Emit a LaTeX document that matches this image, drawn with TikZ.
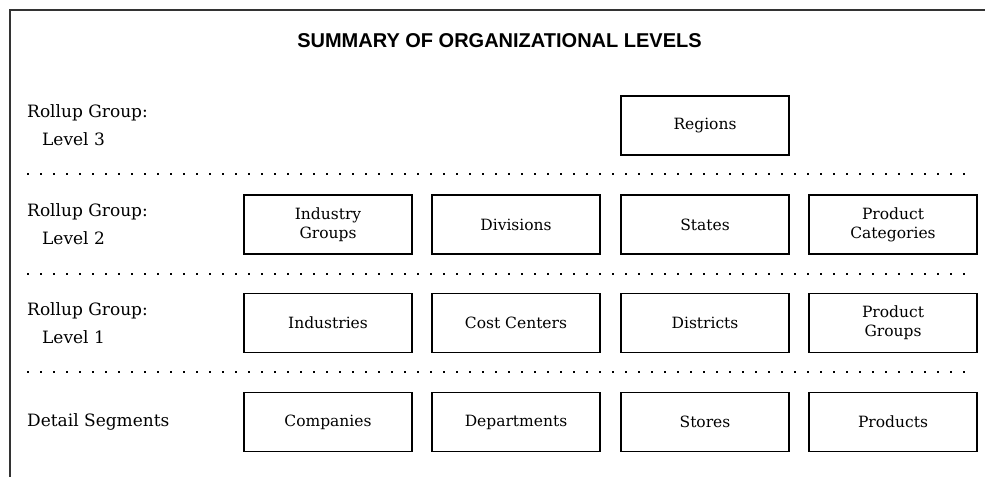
\documentclass[tikz,border=0pt]{standalone}
\usepackage{fontspec}
\setmainfont{DejaVu Serif}
\newfontfamily\headfont{Liberation Sans}

\tikzset{
  levelbox/.style={draw, line width=1.2pt, minimum width=168pt, minimum height=59pt, inner sep=0pt, align=center, font=\fontsize{15.5}{19}\selectfont},
  levellabel/.style={anchor=west, inner sep=0pt, align=left, font=\fontsize{17}{28}\selectfont},
  separator/.style={line width=1.5pt, dash pattern=on 1.5pt off 11.5pt}
}

\begin{document}
\begin{tikzpicture}[x=1pt, y=-1pt]
   		\def \ColA {328};
   		\def \ColB {516};
   		\def \ColC {705};
   		\def \ColD {893};
   		\def \RowA {125.5};
   		\def \RowB {224.5};
   		\def \RowC {323};
   		\def \RowD {422};
   		\def \TextX {27};
   		
   		\useasboundingbox (0,0) rectangle (985,477);
   		\draw [line width=1.5pt, black!80] (985,10) -- (10,10) -- (10,477);
   		
   		\node[font=\headfont\bfseries\fontsize{20}{24}\selectfont](title) at (499.5,40.5){SUMMARY OF ORGANIZATIONAL LEVELS};
   		
   		% level 3
   		\node[levellabel](labelthree) at (\TextX,\RowA){Rollup Group:\\\hspace*{15pt}Level 3};
   		\node[levelbox](regions) at (\ColC,\RowA){Regions};
   		
   		\draw [separator] (\TextX,174) -- (976,174);
   		
   		% level 2
   		\node[levellabel](labeltwo) at (\TextX,\RowB){Rollup Group:\\\hspace*{15pt}Level 2};
   		\node[levelbox](indgroups) at (\ColA,\RowB){Industry\\Groups};
   		\node[levelbox](divisions) at (\ColB,\RowB){Divisions};
   		\node[levelbox](states) at (\ColC,\RowB){States};
   		\node[levelbox](prodcats) at (\ColD,\RowB){Product\\Categories};
   		
   		\draw [separator] (\TextX,274) -- (976,274);
   		
   		% level 1
   		\node[levellabel](labelone) at (\TextX,\RowC){Rollup Group:\\\hspace*{15pt}Level 1};
   		\node[levelbox](industries) at (\ColA,\RowC){Industries};
   		\node[levelbox](costcenters) at (\ColB,\RowC){Cost Centers};
   		\node[levelbox](districts) at (\ColC,\RowC){Districts};
   		\node[levelbox](prodgroups) at (\ColD,\RowC){Product\\Groups};
   		
   		\draw [separator] (\TextX,372) -- (976,372);
   		
   		% detail segments
   		\node[levellabel](labeldetail) at (\TextX,\RowD){Detail Segments};
   		\node[levelbox](companies) at (\ColA,\RowD){Companies};
   		\node[levelbox](departments) at (\ColB,\RowD){Departments};
   		\node[levelbox](stores) at (\ColC,\RowD){Stores};
   		\node[levelbox](products) at (\ColD,\RowD){Products};
   		
\end{tikzpicture}
\end{document}
